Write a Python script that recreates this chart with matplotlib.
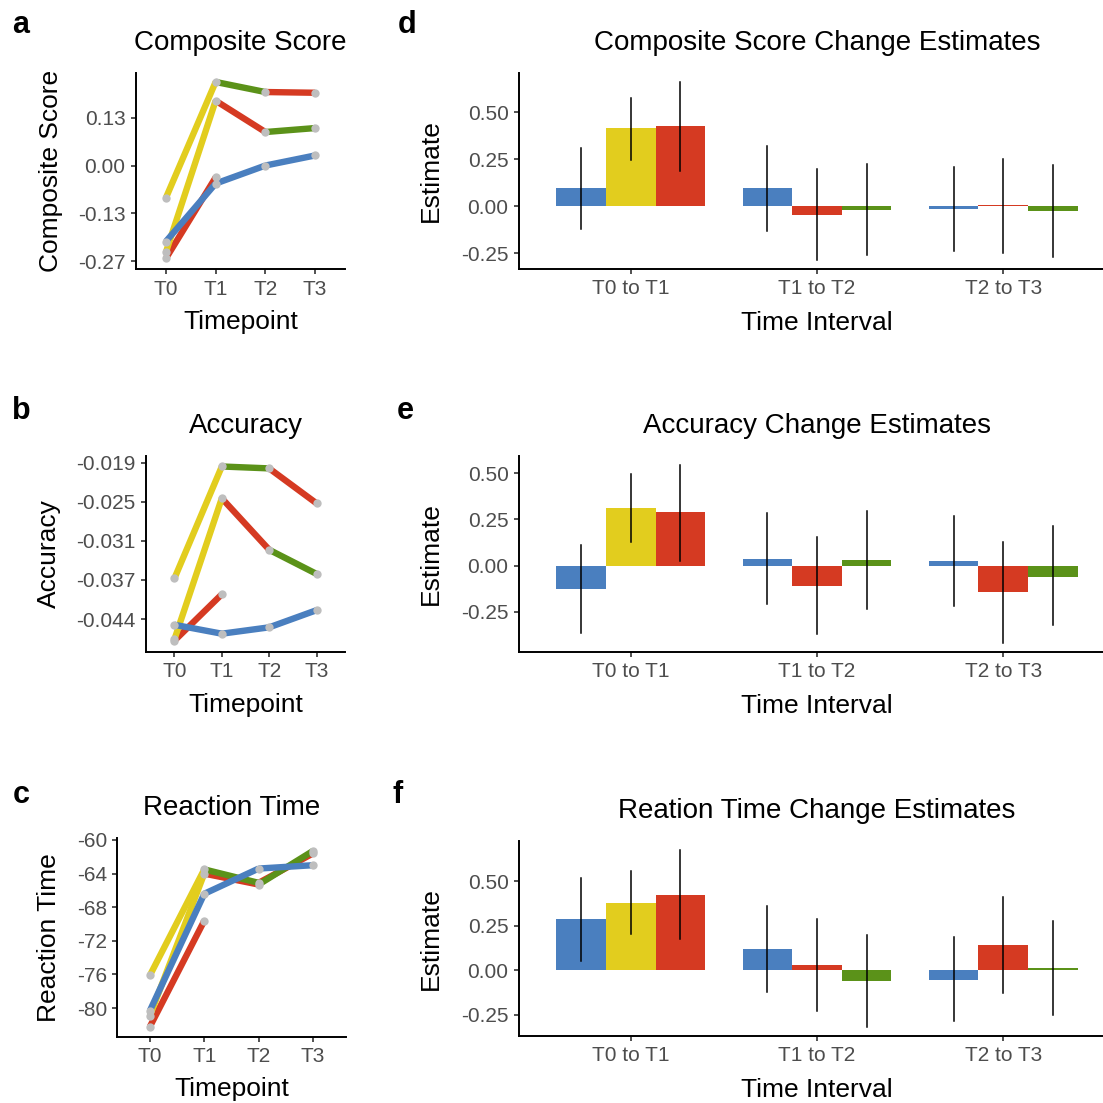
import matplotlib
matplotlib.use("Agg")
import matplotlib.pyplot as plt

plt.rcParams['font.family'] = ['Liberation Sans', 'DejaVu Sans']

PALETTE = {"blue": "#4A7FBF", "yellow": "#E2CD1E", "red": "#D53A22", "green": "#5B9219"}
POINT_COLOR = "#BEBEBE"
TICK_GRAY = "#4D4D4D"

timepoints = ["T0", "T1", "T2", "T3"]
intervals = ["T0 to T1", "T1 to T2", "T2 to T3"]

# ---- Panel a: Composite Score trajectories ----
comp_A = [-0.090, 0.232, 0.204, 0.202]
comp_A_cols = ["yellow", "green", "red"]
comp_B = [-0.241, 0.180, 0.093, 0.104]
comp_B_cols = ["yellow", "red", "green"]
comp_C = [-0.211, -0.050, 0.000, 0.028]
comp_C_cols = ["blue", "blue", "blue"]
comp_D = [-0.258, -0.033]
comp_D_cols = ["red"]
comp_ticks = [-0.265, -0.1325, 0.0, 0.1325]
comp_ticklabels = ["-0.27", "-0.13", "0.00", "0.13"]

# ---- Panel b: Accuracy trajectories ----
acc_A = [-0.0372, -0.0196, -0.0199, -0.0254]
acc_A_cols = ["yellow", "green", "red"]
acc_B = [-0.0468, -0.0246, -0.0327, -0.0365]
acc_B_cols = ["yellow", "red", "green"]
acc_C = [-0.0445, -0.0459, -0.0449, -0.0422]
acc_C_cols = ["blue", "blue", "blue"]
acc_D = [-0.0470, -0.0397]
acc_D_cols = ["red"]
acc_ticks = [-0.019, -0.02515, -0.0313, -0.03745, -0.0436]
acc_ticklabels = ["-0.019", "-0.025", "-0.031", "-0.037", "-0.044"]

# ---- Panel c: Reaction Time trajectories ----
rt_A = [-76.1, -63.5, -65.1, -61.6]
rt_A_cols = ["yellow", "green", "red"]
rt_B = [-80.9, -64.0, -65.3, -61.3]
rt_B_cols = ["yellow", "red", "green"]
rt_C = [-80.3, -66.4, -63.4, -63.0]
rt_C_cols = ["blue", "blue", "blue"]
rt_D = [-82.2, -69.6]
rt_D_cols = ["red"]
rt_ticks = [-80, -76, -72, -68, -64, -60]
rt_ticklabels = ["-80", "-76", "-72", "-68", "-64", "-60"]

# ---- Bar charts: colours per interval ----
bar_cols = [["blue", "yellow", "red"], ["blue", "red", "green"], ["blue", "red", "green"]]

comp_est = [[0.099, 0.415, 0.426], [0.099, -0.049, -0.021], [-0.016, 0.004, -0.026]]
comp_lo = [[-0.120, 0.248, 0.188], [-0.132, -0.287, -0.259], [-0.238, -0.252, -0.269]]
comp_hi = [[0.313, 0.579, 0.664], [0.320, 0.197, 0.224], [0.209, 0.250, 0.220]]

acc_est = [[-0.128, 0.310, 0.289], [0.037, -0.112, 0.032], [0.027, -0.144, -0.059]]
acc_lo = [[-0.365, 0.130, 0.027], [-0.208, -0.372, -0.232], [-0.217, -0.419, -0.323]]
acc_hi = [[0.110, 0.494, 0.545], [0.285, 0.153, 0.294], [0.269, 0.128, 0.214]]

rt_est = [[0.286, 0.381, 0.425], [0.120, 0.031, -0.061], [-0.052, 0.142, 0.015]]
rt_lo = [[0.054, 0.203, 0.174], [-0.120, -0.225, -0.318], [-0.286, -0.126, -0.248]]
rt_hi = [[0.517, 0.558, 0.678], [0.362, 0.290, 0.196], [0.188, 0.410, 0.277]]

est_ticks = [-0.25, 0.0, 0.25, 0.50]
est_ticklabels = ["-0.25", "0.00", "0.25", "0.50"]

W = H = 1103
fig = plt.figure(figsize=(W / 100, H / 100), dpi=100)


def make_ax(x0, y0, x1, y1):
    return fig.add_axes([x0 / W, 1 - y1 / H, (x1 - x0) / W, (y1 - y0) / H])


def style_ax(ax):
    for s in ["top", "right"]:
        ax.spines[s].set_visible(False)
    for s in ["left", "bottom"]:
        ax.spines[s].set_linewidth(1.4)
        ax.spines[s].set_color("black")
    ax.tick_params(axis="both", length=3.5, width=1.2, color="#333333",
                   labelsize=15, labelcolor=TICK_GRAY, pad=4)


def line_panel(ax, trajs, ylim, ticks, ticklabels, title, ylabel):
    order = ["red", "yellow", "green", "blue"]
    for c in order:
        for vals, cols in trajs:
            for k, sc in enumerate(cols):
                if sc == c:
                    ax.plot([k + 1, k + 2], [vals[k], vals[k + 1]], color=PALETTE[c],
                            lw=4.6, solid_capstyle="butt", zorder=2)
    for vals, cols in trajs:
        ax.plot(range(1, len(vals) + 1), vals, ls="none", marker="o", ms=6,
                mfc=POINT_COLOR, mec="none", zorder=3)
    ax.set_xlim(0.4, 4.6)
    ax.set_ylim(*ylim)
    ax.set_xticks(range(1, 5))
    ax.set_xticklabels(timepoints)
    ax.set_yticks(ticks)
    ax.set_yticklabels(ticklabels)
    style_ax(ax)
    ax.set_title(title, fontsize=20, pad=16.5)
    ax.set_xlabel("Timepoint", fontsize=19, labelpad=8)
    ax.set_ylabel(ylabel, fontsize=19, labelpad=11)


def bar_panel(ax, est, lo, hi, ylim, title):
    bw = 0.8 / 3
    for i in range(3):
        for j in range(3):
            x = (i + 1) + (j - 1) * bw
            ax.bar(x, est[i][j], width=bw, color=PALETTE[bar_cols[i][j]], lw=0, zorder=2)
            ax.plot([x, x], [lo[i][j], hi[i][j]], color="black", lw=1.1, zorder=3)
    ax.set_xlim(0.4, 3.6)
    ax.set_ylim(*ylim)
    ax.set_xticks([1, 2, 3])
    ax.set_xticklabels(intervals)
    ax.set_yticks(est_ticks)
    ax.set_yticklabels(est_ticklabels)
    style_ax(ax)
    ax.set_title(title, fontsize=20, pad=16.5)
    ax.set_xlabel("Time Interval", fontsize=19, labelpad=9)
    ax.set_ylabel("Estimate", fontsize=19, labelpad=13)


ax_a = make_ax(136, 73.3, 345, 269.3)
line_panel(ax_a, [(comp_A, comp_A_cols), (comp_B, comp_B_cols), (comp_C, comp_C_cols),
                  (comp_D, comp_D_cols)], (-0.288, 0.256), comp_ticks, comp_ticklabels,
           "Composite Score", "Composite Score")

ax_b = make_ax(146, 456, 345, 652)
line_panel(ax_b, [(acc_A, acc_A_cols), (acc_B, acc_B_cols), (acc_C, acc_C_cols),
                  (acc_D, acc_D_cols)], (-0.04878, -0.01795), acc_ticks, acc_ticklabels,
           "Accuracy", "Accuracy")

ax_c = make_ax(117.3, 838.3, 345.6, 1036.7)
line_panel(ax_c, [(rt_A, rt_A_cols), (rt_B, rt_B_cols), (rt_C, rt_C_cols),
                  (rt_D, rt_D_cols)], (-83.4, -59.8), rt_ticks, rt_ticklabels,
           "Reaction Time", "Reaction Time")

ax_d = make_ax(519, 72.7, 1115, 269)
bar_panel(ax_d, comp_est, comp_lo, comp_hi, (-0.335, 0.712), "Composite Score Change Estimates")
ax_e = make_ax(519, 456, 1115, 652)
bar_panel(ax_e, acc_est, acc_lo, acc_hi, (-0.467, 0.593), "Accuracy Change Estimates")
ax_f = make_ax(519, 840.7, 1115, 1036)
bar_panel(ax_f, rt_est, rt_lo, rt_hi, (-0.368, 0.728), "Reation Time Change Estimates")

for letter, x, y in [("a", 21, 25), ("b", 21, 411), ("c", 21, 795),
                     ("d", 407, 25), ("e", 405, 411), ("f", 398, 795)]:
    fig.text(x / W, 1 - y / H, letter, fontsize=22, fontweight="bold",
             ha="center", va="center")

fig.savefig("out.png", dpi=100)
